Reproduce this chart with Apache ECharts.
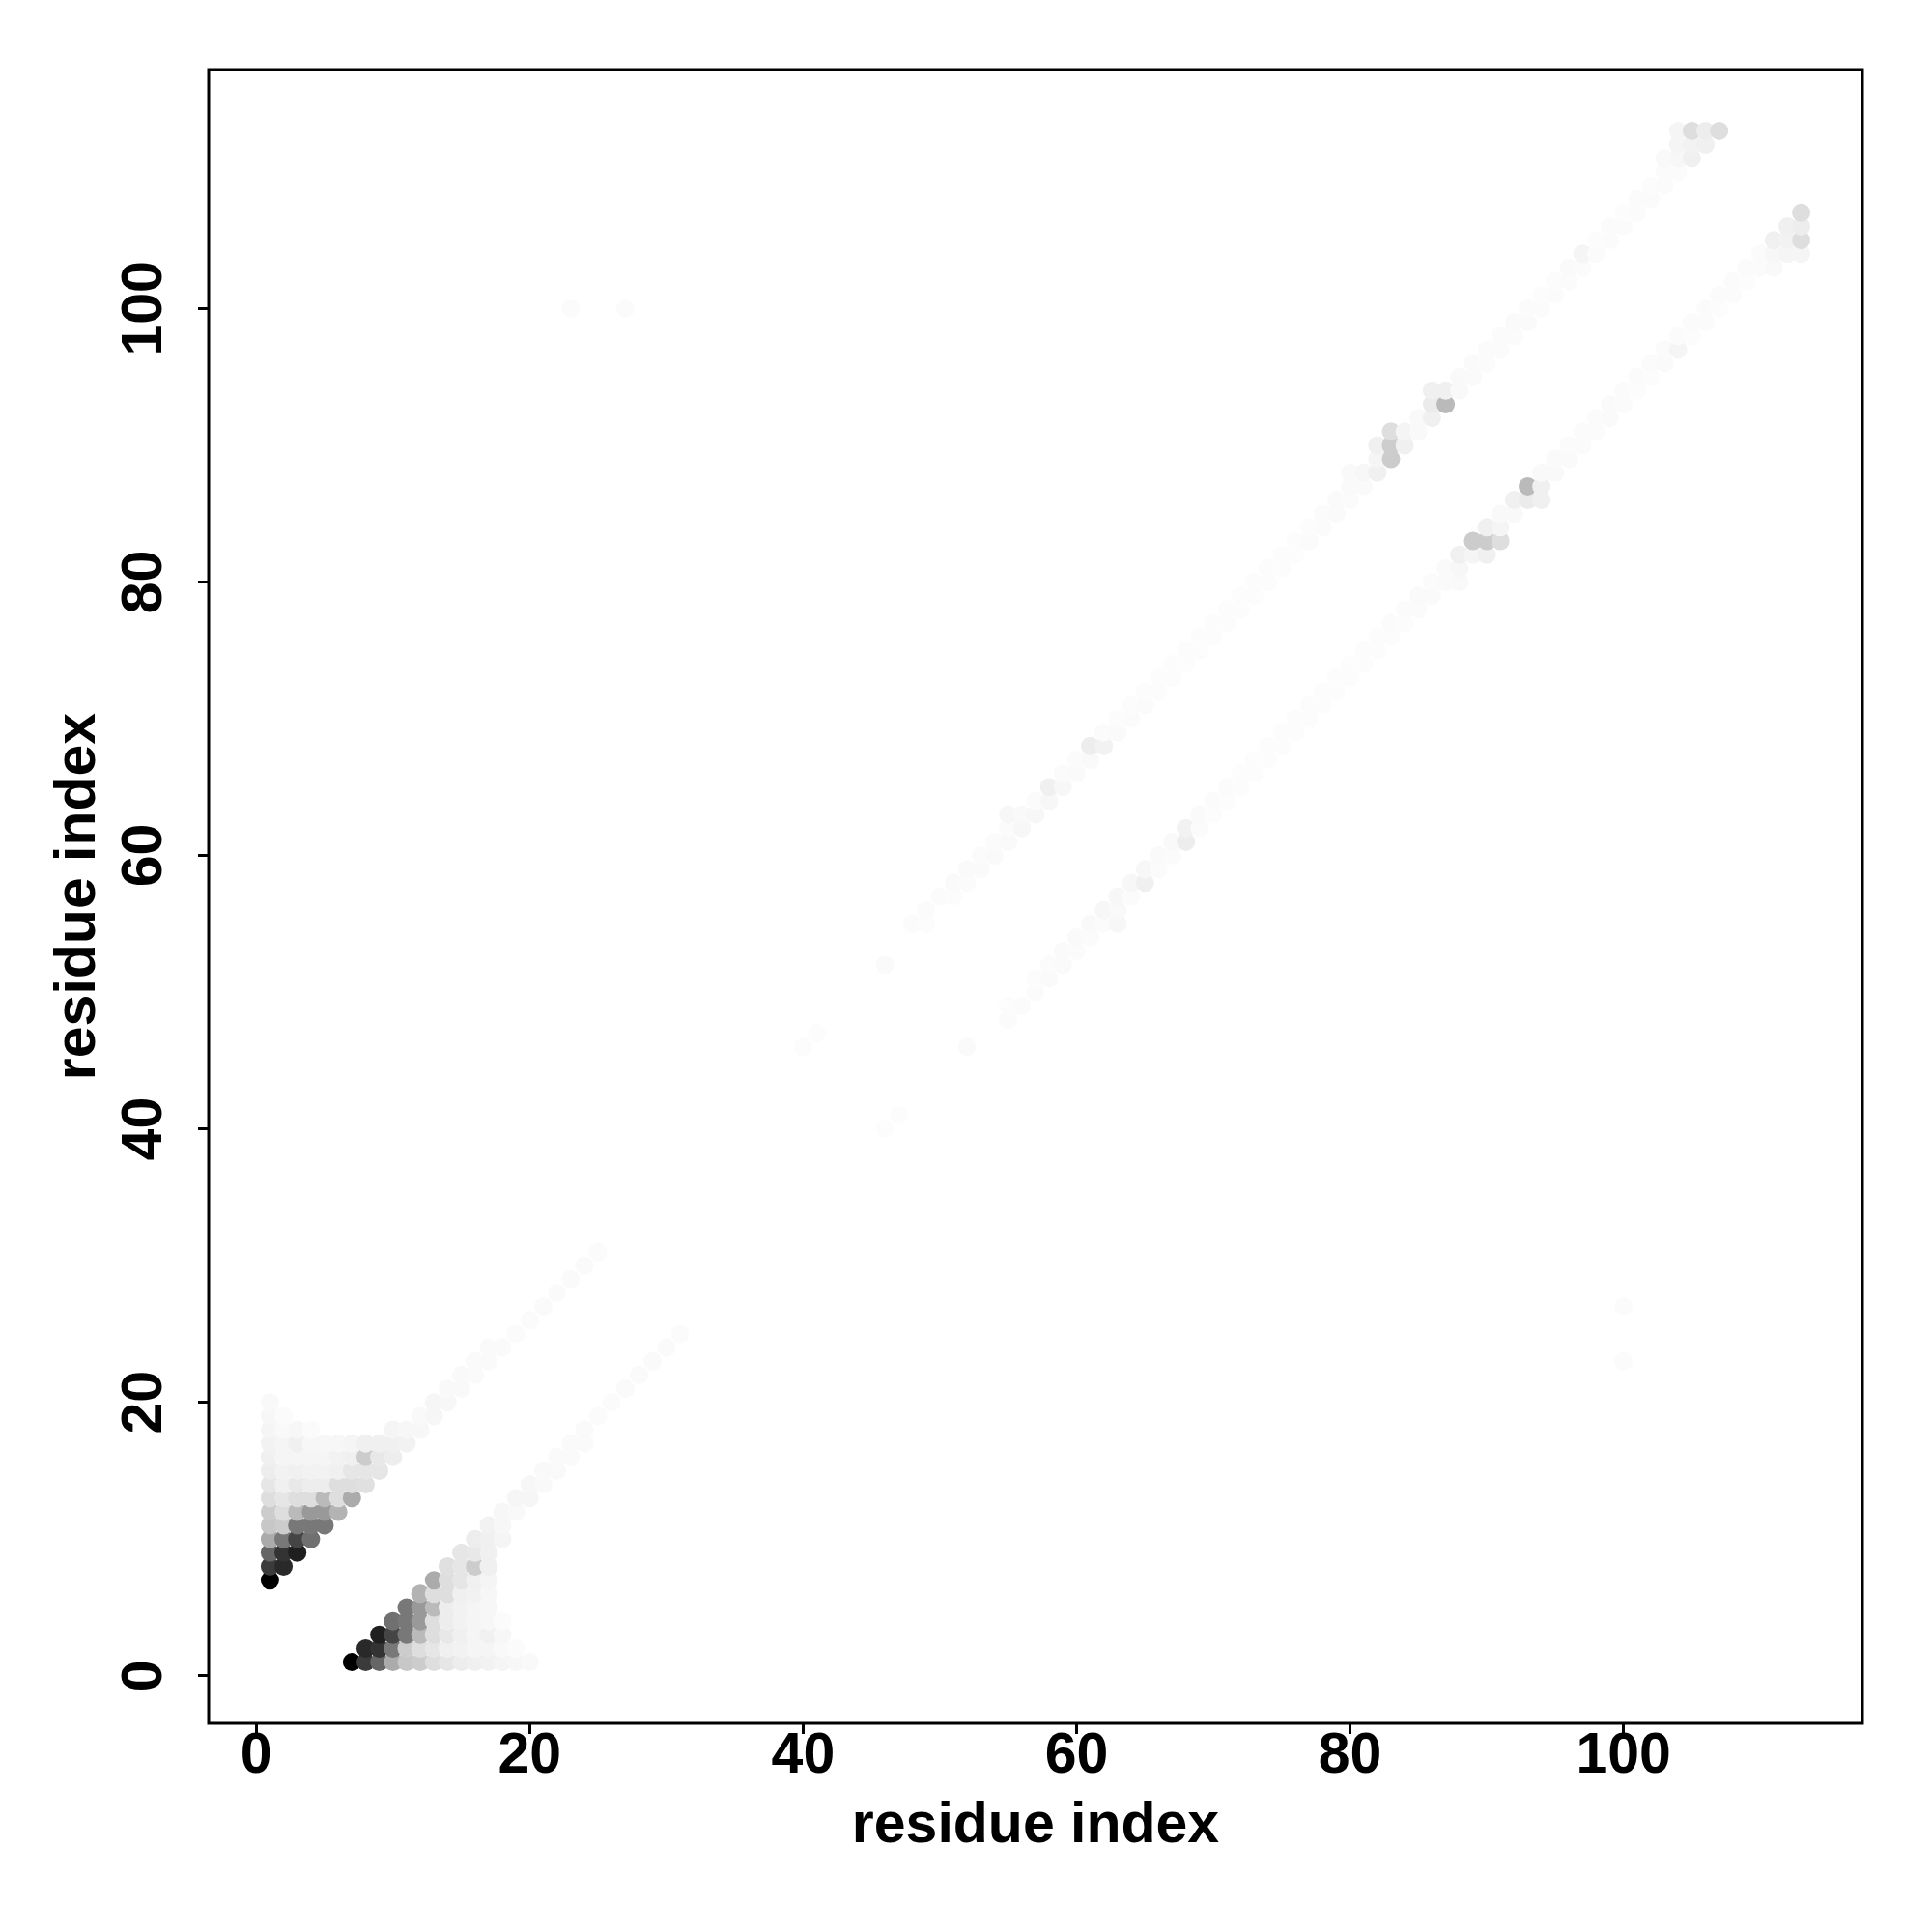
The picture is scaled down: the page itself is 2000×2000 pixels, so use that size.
<!DOCTYPE html>
<html>
<head>
<meta charset="utf-8">
<script src="https://cdn.jsdelivr.net/npm/echarts@6/dist/echarts.min.js"></script>
<style>
html,body{margin:0;padding:0;background:#fff;}
#chart{width:2000px;height:2000px;}
</style>
</head>
<body>
<div id="chart"></div>
<script>
// Contact map (symmetric): each entry is [residue i, residue j, contact frequency], i < j.
// The mirrored entry [j, i] is drawn as well.
const tickValues = [0, 20, 40, 60, 80, 100];
const axisTitle = 'residue index';

const nearClusterContacts = [
  [1,7,1.00],
  [1,8,0.77],[2,8,0.84],
  [1,9,0.60],[2,9,0.80],[3,9,0.88],
  [1,10,0.33],[2,10,0.53],[3,10,0.73],[4,10,0.56],
  [1,11,0.22],[2,11,0.20],[3,11,0.53],[4,11,0.53],[5,11,0.53],
  [1,12,0.20],[2,12,0.13],[3,12,0.27],[4,12,0.40],[5,12,0.40],[6,12,0.30],
  [1,13,0.13],[2,13,0.10],[3,13,0.13],[4,13,0.13],[5,13,0.27],[6,13,0.13],[7,13,0.33],
  [1,14,0.10],[2,14,0.06],[3,14,0.09],[4,14,0.07],[5,14,0.07],[6,14,0.13],[7,14,0.13],[8,14,0.12],
  [1,15,0.07],[2,15,0.05],[3,15,0.06],[4,15,0.05],[5,15,0.05],[6,15,0.06],[7,15,0.10],[8,15,0.10],[9,15,0.10],
  [1,16,0.06],[2,16,0.04],[3,16,0.04],[4,16,0.04],[5,16,0.04],[6,16,0.05],[7,16,0.06],[8,16,0.20],[9,16,0.09],[10,16,0.07],
  [1,17,0.05],[2,17,0.04],[3,17,0.06],[4,17,0.03],[5,17,0.03],[6,17,0.03],[7,17,0.04],[8,17,0.06],[9,17,0.06],[10,17,0.06],[11,17,0.05],
  [1,18,0.04],[2,18,0.025],[3,18,0.03],[4,18,0.015],[10,18,0.04],[11,18,0.03],[12,18,0.03],
  [1,19,0.03],[2,19,0.015],[12,19,0.025],[13,19,0.035],
  [1,20,0.025],[13,20,0.035],[14,20,0.03],
  [14,21,0.025],[15,21,0.025],
  [15,22,0.025],[16,22,0.02],
  [16,23,0.02],[17,23,0.02],
  [17,24,0.02],[18,24,0.018],
  [19,25,0.015],[20,26,0.015],[21,27,0.02],[22,28,0.02],[23,29,0.02],[24,30,0.02],[25,31,0.015]
];

const isolatedContacts = [
  [23,100,0.015],[27,100,0.015],
  [40,46,0.012],[41,47,0.012],[46,52,0.02]
];

const bandContacts = [
  [48,55,0.015],[49,55,0.01],[49,56,0.015],[50,57,0.015],[51,57,0.01],[51,58,0.02],
  [52,58,0.015],[52,59,0.02],[53,59,0.02],[53,60,0.015],[54,60,0.02],[54,61,0.015],
  [55,61,0.025],[55,62,0.015],[55,63,0.03],[56,62,0.03],[56,63,0.025],[57,63,0.03],
  [57,64,0.015],[58,64,0.03],[58,65,0.06],[59,65,0.03],[59,66,0.015],[60,66,0.02],
  [60,67,0.015],[61,67,0.025],[61,68,0.07],[62,68,0.05],[62,69,0.015],[63,69,0.02],
  [63,70,0.01],[64,70,0.015],[64,71,0.01],[65,71,0.015],[65,72,0.012],[66,72,0.012],
  [66,73,0.01],[67,73,0.012],[67,74,0.01],[68,74,0.01],[68,75,0.012],[69,75,0.012],
  [69,76,0.01],[70,76,0.012],[70,77,0.01],[71,77,0.01],[71,78,0.01],[72,78,0.012],
  [72,79,0.01],[73,79,0.01],[73,80,0.012],[74,80,0.012],[74,81,0.01],[75,81,0.012],
  [75,82,0.01],[76,82,0.012],[76,83,0.01],[77,83,0.015],[77,84,0.01],[78,84,0.015],
  [78,85,0.015],[79,85,0.02],[79,86,0.02],[80,86,0.015],[80,87,0.02],[80,88,0.025],
  [81,87,0.02],[81,88,0.03],[82,88,0.06],[82,89,0.04],[82,90,0.06],[83,89,0.20],
  [83,90,0.20],[83,91,0.13],[84,90,0.06],[84,91,0.04],[85,91,0.025],[85,92,0.025],
  [86,92,0.06],[86,93,0.08],[86,94,0.06],[87,93,0.27],[87,94,0.06],[88,94,0.025],
  [88,95,0.025],[89,95,0.02],[89,96,0.02],[90,96,0.015],[90,97,0.015],[91,97,0.015],
  [91,98,0.015],[92,98,0.015],[92,99,0.02],[93,99,0.02],[93,100,0.015],[94,100,0.015],
  [94,101,0.01],[95,101,0.015],[95,102,0.01],[96,102,0.015],[96,103,0.02],[97,103,0.015],
  [97,104,0.04],[98,104,0.015],[98,105,0.01],[99,105,0.015],[99,106,0.015],[100,106,0.015],
  [100,107,0.01],[101,107,0.015],[101,108,0.015],[102,108,0.015],[102,109,0.01],[103,109,0.015],
  [103,110,0.015],[103,111,0.025],[104,110,0.015],[104,111,0.03],[104,112,0.04],[104,113,0.04],
  [105,111,0.06],[105,112,0.05],[105,113,0.13],[106,112,0.06],[106,113,0.07],[107,113,0.13]
];

// Build symmetric point list (both triangles), drawn in order of x then y
const points = [];
[nearClusterContacts, isolatedContacts, bandContacts].forEach(function (list) {
  list.forEach(function (c) {
    points.push([c[0], c[1], c[2]]);
    points.push([c[1], c[0], c[2]]);
  });
});
points.sort(function (a, b) { return a[0] - b[0] || a[1] - b[1]; });

const font = { fontFamily: 'Liberation Sans', fontWeight: 'bold', fontSize: 59, color: '#000' };

const chart = echarts.init(document.getElementById('chart'), null, { renderer: 'canvas' });
chart.setOption({
  animation: false,
  backgroundColor: '#ffffff',
  grid: {
    left: 216, top: 72, width: 1712, height: 1712,
    show: true, borderColor: '#000', borderWidth: 3, backgroundColor: 'transparent'
  },
  visualMap: {
    type: 'continuous', show: false, dimension: 2, min: 0, max: 1,
    inRange: { color: ['#ffffff', '#000000'] }
  },
  xAxis: {
    type: 'value', min: -3.48, max: 117.48,
    name: axisTitle, nameLocation: 'middle', nameGap: 77,
    nameTextStyle: Object.assign({}, font),
    splitLine: { show: false },
    axisLine: { show: false, onZero: false },
    axisTick: { show: true, length: 11, customValues: tickValues, lineStyle: { color: '#000', width: 3 } },
    axisLabel: Object.assign({ customValues: tickValues, margin: 5 }, font)
  },
  yAxis: {
    type: 'value', min: -3.48, max: 117.48,
    name: axisTitle, nameLocation: 'middle', nameGap: 105, nameRotate: 90,
    nameTextStyle: Object.assign({}, font),
    splitLine: { show: false },
    axisLine: { show: false, onZero: false },
    axisTick: { show: true, length: 11, customValues: tickValues, lineStyle: { color: '#000', width: 3 } },
    axisLabel: Object.assign({ customValues: tickValues, margin: 36, rotate: 90 }, font)
  },
  series: [{
    type: 'scatter',
    symbol: 'circle',
    symbolSize: 19,
    data: points,
    itemStyle: { opacity: 1 },
    emphasis: { disabled: true }
  }]
});
</script>
</body>
</html>
